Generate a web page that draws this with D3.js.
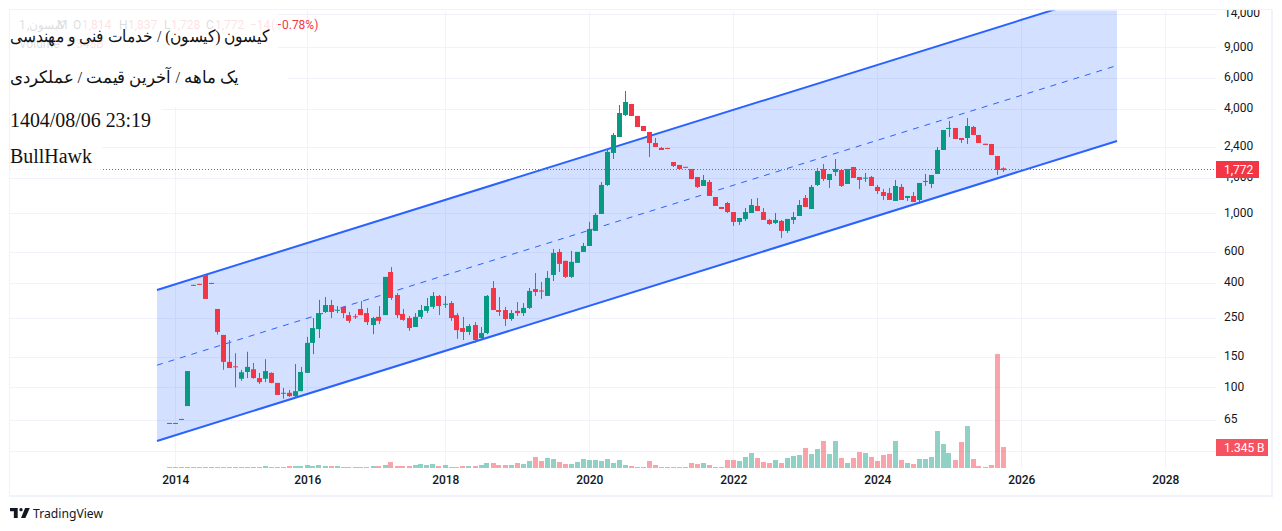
<!DOCTYPE html>
<html><head><meta charset="utf-8">
<script src="https://cdn.jsdelivr.net/npm/d3@7"></script>
<style>html,body{margin:0;padding:0;background:#fff;overflow:hidden}svg{display:block}</style>
</head><body><svg id="c" width="1282" height="531"></svg>
<script>
const opens=[61.9,61.9,65.2,78,385,393,442,395,282,200,140,132,112,122.5,127,113,112,121,106,92.5,93,89,95,121,180,216,271,297,277,290,260,256,282,267,228,254,260,460,339,264,250,222,254,275,290,335,300,305,260,219,208,228,192,205,372,278,278,247,275,267,286,367,360,335,442,600,533,431,519,600,649,792,991,1455,2222,2746,3674,4249,3626,3176,2934,2536,2374,2375,1972,1896,1850,1798,1617,1436,1514,1241,1087,1146,1017,892,928,1004,1102,1017,916,880,904,792,916,965,1225,1059,1455,1798,1554,1728,1774,1474,1846,1617,1590,1617,1417,1326,1309,1177,1417,1225,1258,1193,1522,1474,1683,2312,3065,3093,2710,2710,3134,2820,2510,2503,2135,1814];
const highs=[62.4,62.4,65.8,124,388,393,442,398,282,200,187,157,126,160,138,121,145,122,106,99,96.5,136,131,195,250,318,330,318,293,290,271,264,313,286,254,293,431,491,348,282,257,267,297,326,353,339,335,313,267,254,231,237,222,339,408,330,290,278,309,305,372,454,403,466,624,624,533,608,600,676,892,1004,1514,2343,2895,4193,5047,4249,3626,3176,2934,2710,2406,2375,1972,1896,1850,1798,1617,1661,1554,1241,1087,1162,1017,940,1073,1209,1225,1073,928,1004,916,928,1017,1193,1274,1455,1822,1921,1683,2052,1774,1798,1846,1617,1705,1639,1455,1380,1398,1554,1474,1258,1326,1494,1683,1661,2406,3012,3394,3093,2710,3531,3176,2820,2510,2503,2135,1837];
const lows=[61.9,61.9,65.2,78,385,390,322,395,201,126,129,100,109,113,112,104.5,107,105.5,90.4,86,88,87,95,121,155,192,267,250,267,250,234,247,260,228,202,231,260,318,250,241,211,222,247,267,282,260,286,241,190,187,200,180,190,202,278,257,225,241,257,257,282,335,322,335,408,460,425,425,519,600,649,792,991,1436,2052,2746,3626,3626,3134,2973,2107,2406,2312,2350,1846,1798,1830,1575,1398,1436,1258,1102,1059,1004,846,857,904,1004,1031,916,857,868,722,771,868,965,1087,1059,1436,1534,1398,1639,1417,1474,1596,1380,1514,1436,1291,1193,1193,1177,1193,1177,1162,1131,1436,1398,1683,2312,2746,2674,2536,2503,2820,2536,2470,2164,1661,1728];
const closes=[62.4,62.4,65.8,124,388,390,322,398,208,140,129,131,122,131,113,107,124,106,90.4,93,89,95,122.5,180,219,267,297,271,279,267,241,254,260,237,250,241,431,326,260,244,219,254,278,293,335,293,302,250,213,208,225,187,205,335,278,271,247,267,267,286,358,353,356,425,592,512,431,526,600,649,813,978,1455,2252,2820,3772,4363,3626,3134,2973,2536,2406,2312,2350,1871,1798,1830,1575,1417,1554,1258,1102,1059,1017,892,940,1017,1116,1031,916,868,916,792,928,952,1116,1087,1417,1751,1575,1683,1798,1436,1798,1596,1554,1602,1436,1344,1258,1193,1436,1193,1258,1162,1494,1534,1661,2312,3012,3095,2674,2639,3176,2820,2536,2470,2164,1774,1772];
const volumes=[0.064,0.064,0.064,0.064,0.064,0.064,0.064,0.064,0.064,0.064,0.064,0.064,0.064,0.064,0.064,0.064,0.128,0.064,0.064,0.064,0.128,0.128,0.128,0.192,0.128,0.192,0.128,0.128,0.128,0.064,0.064,0.064,0.064,0.064,0.128,0.128,0.192,0.385,0.128,0.128,0.128,0.192,0.256,0.192,0.256,0.128,0.192,0.064,0.064,0.128,0.128,0.128,0.192,0.32,0.32,0.192,0.192,0.192,0.32,0.256,0.449,0.705,0.449,0.641,0.577,0.385,0.256,0.256,0.385,0.577,0.513,0.513,0.449,0.577,0.32,0.513,0.192,0.128,0.064,0.064,0.449,0.192,0.064,0.064,0.064,0.064,0.064,0.32,0.256,0.32,0.192,0.064,0.064,0.513,0.513,0.449,0.705,0.962,0.641,0.385,0.32,0.513,0.32,0.641,0.769,0.833,1.282,0.897,1.218,1.731,0.897,1.731,0.641,0.32,0.641,1.026,0.962,0.705,0.449,0.833,0.897,1.731,0.513,0.32,0.256,0.577,0.577,0.705,2.372,1.538,0.962,0.513,1.667,2.692,0.577,0.128,0.064,0.192,7.308,1.345];
const priceTicks=[14000,9000,6000,4000,2400,1600,1000,600,400,250,150,100,65,43];
const yearLabels=["2014","2016","2018","2020","2022","2024","2026","2028"];
const yearBars=[1,23,46,70,94,118,142,166];
const channelBars=[-2.05,157.95];
const channelUpper=[362.6,19200];
const channelMiddle=[134,7070];
const channelLower=[49.15,2604];
const lastPrice=1772, lastVolumeLabel="1.345 B", lastPriceLabel="1,772";
const titleRows=["کیسون (کیسون) / خدمات فنی و مهندسی","یک ماهه / آخرین قیمت / عملکردی","1404/08/06 23:19","BullHawk"];

const GREEN="#089981",RED="#f23645",GRID="#f0f3fa",BLUE="#2962ff";
const svg=d3.select("#c");
const x=d3.scaleLinear().domain([0,139]).range([169.3,1003.3]);
const y=d3.scaleLog().domain([100,1000]).range([387.3,213.3]);
const v=d3.scaleLinear().domain([0,7.308]).range([468,354]);
const L=10,R=1216,T=10.5,B=468;
const defs=svg.append("defs");
defs.append("clipPath").attr("id","pane").append("rect").attr("x",L).attr("y",T).attr("width",R-L).attr("height",B-T);
defs.append("clipPath").attr("id","scale").append("rect").attr("x",R).attr("y",T-.5).attr("width",56).attr("height",B-T);

// frame
svg.append("rect").attr("x",9.5).attr("y",9.5).attr("width",1262.5).attr("height",486.5).attr("fill","none").attr("stroke",GRID).attr("stroke-width",1);
svg.append("line").attr("x1",1272).attr("x2",1272).attr("y1",10).attr("y2",497).attr("stroke",GRID).attr("stroke-width",2);
svg.append("line").attr("x1",9).attr("x2",1273).attr("y1",496).attr("y2",496).attr("stroke",GRID).attr("stroke-width",2);
// grid
const pane=svg.append("g").attr("clip-path","url(#pane)");
pane.selectAll("line.h").data(priceTicks).join("line").attr("x1",L).attr("x2",R).attr("y1",d=>Math.round(y(d))+.5).attr("y2",d=>Math.round(y(d))+.5).attr("stroke",GRID);
pane.selectAll("line.v").data(yearBars).join("line").attr("x1",d=>Math.floor(x(d))+.5).attr("x2",d=>Math.floor(x(d))+.5).attr("y1",T).attr("y2",B).attr("stroke",GRID);
// channel
const chanArea=d3.area().x((d,i)=>x(channelBars[i])).y0((d,i)=>y(channelLower[i])).y1((d,i)=>y(channelUpper[i]));
pane.append("path").attr("d",chanArea(channelBars)).attr("fill",BLUE).attr("fill-opacity",.2);
const chanLine=a=>d3.line().x((d,i)=>x(channelBars[i])).y((d,i)=>y(a[i]))(channelBars);
pane.append("path").attr("d",chanLine(channelUpper)).attr("stroke",BLUE).attr("stroke-width",2).attr("fill","none");
pane.append("path").attr("d",chanLine(channelLower)).attr("stroke",BLUE).attr("stroke-width",2).attr("fill","none");
pane.append("path").attr("d",chanLine(channelMiddle)).attr("stroke",BLUE).attr("stroke-width",1).attr("stroke-dasharray","6 6").attr("fill","none");
// volume
const idx=d3.range(opens.length);
const up=i=>closes[i]>=opens[i];
pane.selectAll("rect.vol").data(idx).join("rect").attr("x",i=>Math.round(x(i)-2.8)).attr("width",5)
 .attr("y",i=>v(volumes[i])).attr("height",i=>B-v(volumes[i])).attr("fill",i=>up(i)?GREEN:RED).attr("fill-opacity",.45);
// candles
pane.selectAll("line.w").data(idx).join("line").attr("x1",i=>Math.floor(x(i))+.5).attr("x2",i=>Math.floor(x(i))+.5)
 .attr("y1",i=>y(highs[i])).attr("y2",i=>y(lows[i])).attr("stroke",i=>up(i)?GREEN:RED);
pane.selectAll("rect.b").data(idx).join("rect").attr("x",i=>Math.round(x(i)-2.8)).attr("width",5)
 .attr("y",i=>Math.min(y(opens[i]),y(closes[i])))
 .attr("height",i=>Math.max(1,Math.abs(y(opens[i])-y(closes[i]))))
 .attr("fill",i=>up(i)?GREEN:RED);
// last price line
pane.append("line").attr("x1",L).attr("x2",R).attr("y1",Math.round(y(lastPrice))-.5).attr("y2",Math.round(y(lastPrice))-.5)
 .attr("stroke",RED).attr("stroke-dasharray","1 2");
// axes
const FONT="Roboto, sans-serif";
const ya=svg.append("g").attr("clip-path","url(#scale)")
 .append("g").attr("transform",`translate(${R},-1)`).call(d3.axisRight(y).tickValues(priceTicks).tickSize(0).tickPadding(8).tickFormat(d3.format(",")));
ya.select(".domain").remove();
ya.selectAll("text").attr("font-family",FONT).attr("font-size",12).attr("fill","#131722");
const xa=svg.append("g").attr("transform","translate(0,473)").call(d3.axisBottom(x).tickValues(yearBars).tickSize(0).tickPadding(2).tickFormat((d,i)=>yearLabels[i]));
xa.select(".domain").remove();
xa.selectAll("text").attr("font-family",FONT).attr("font-size",12).attr("font-weight",500).attr("fill","#131722");
// last labels
svg.append("rect").attr("x",R).attr("y",161).attr("width",43).attr("height",17).attr("fill",RED);
svg.append("text").attr("x",1224).attr("y",174).text(lastPriceLabel).attr("font-family",FONT).attr("font-size",12).attr("fill","#fff");
svg.append("rect").attr("x",R).attr("y",439).attr("width",52).attr("height",17).attr("fill","#f7525f");
svg.append("text").attr("x",1224).attr("y",452).text(lastVolumeLabel).attr("font-family",FONT).attr("font-size",12).attr("fill","#fff");
// legend (behind translucent overlay)
const lg=svg.append("g").attr("font-family",FONT).attr("font-size",12);
const put=(px,t,c)=>lg.append("text").attr("x",px).attr("y",29).attr("fill",c).text(t);
put(19,"1","#131722");
put(27,",کیسون","#131722");
put(57,"M","#131722");
[[73,"O","1,814"],[119,"H","1,837"],[164,"L","1,728"],[206,"C","1,772"]].forEach(a=>{put(a[0],a[1],"#131722");put(a[0]+(a[1]=="L"?7:9),a[2],RED);});
put(250,"−14",RED);
put(271,"(−0.78%)",RED);
lg.append("text").attr("x",19).attr("y",48).attr("fill","#131722").text("Volume");
lg.append("text").attr("x",66).attr("y",48).attr("fill",RED).text("1.345B");
// overlay with title
svg.append("rect").attr("x",10).attr("y",11).attr("width",268).attr("height",48).attr("fill","#fff").attr("fill-opacity",.85);
svg.append("rect").attr("x",10).attr("y",59).attr("width",278).attr("height",48).attr("fill","#fff").attr("fill-opacity",.85);
svg.append("rect").attr("x",10).attr("y",107).attr("width",152).attr("height",33).attr("fill","#fff").attr("fill-opacity",.85);
svg.append("rect").attr("x",10).attr("y",140).attr("width",92).attr("height",32).attr("fill","#fff").attr("fill-opacity",.85);
const SERIF="'Liberation Serif','Times New Roman',serif";
[[10,42,17,259],[10,83,17,229],[10,127,20,141],[10,163,20,82]].forEach((r,i)=>{
 svg.append("text").attr("x",r[0]).attr("y",r[1]).attr("font-family",SERIF).attr("font-size",r[2]).attr("fill","#111")
  .attr("textLength",r[3]).attr("lengthAdjust","spacingAndGlyphs").text(titleRows[i]);
});
// footer
const logo=svg.append("g").attr("transform","translate(10,504.7) scale(.55)").attr("fill","#131722");
logo.append("path").attr("d","M14 6H0v6h7v12h7V6zM28 24h-8l7.5-18H36l-8 18zM20 12a3 3 0 1 0 0-6 3 3 0 0 0 0 6z");
svg.append("text").attr("x",33).attr("y",518).attr("font-family","'Noto Sans', sans-serif").attr("font-size",13).attr("fill","#131722").attr("textLength",70).attr("lengthAdjust","spacingAndGlyphs").text("TradingView");
</script></body></html>
